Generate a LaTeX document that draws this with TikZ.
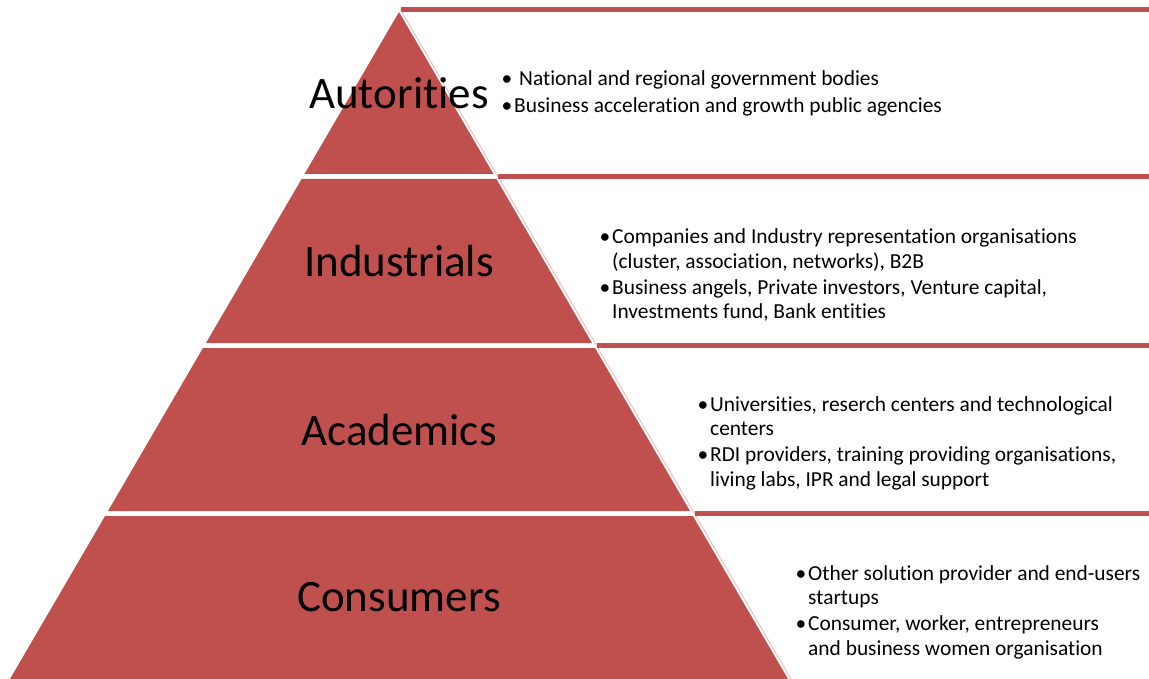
\documentclass[tikz,border=0pt]{standalone}
\usepackage{fontspec}
\setmainfont{Carlito}[Ligatures={NoCommon,NoContextual}]
\definecolor{pyrred}{HTML}{C0504D}
\definecolor{pyrpink}{HTML}{E6B9B8}
\newcommand{\bul}{\llap{•\hspace{2pt}}}

\begin{document}
\begin{tikzpicture}[x=1pt, y=-1pt,
    layer/.style={fill=pyrred},
    band/.style={draw=pyrred, line width=5pt},
    edge/.style={draw=pyrpink, line width=0.8pt},
    level/.style={inner sep=0pt, font=\fontsize{45}{54}\selectfont},
    items/.style={inner sep=0pt, anchor=west, align=left, font=\fontsize{21.4}{24.5}\selectfont}]
\useasboundingbox (0,0) rectangle (1149,679);
\clip (0,0) rectangle (1149,679);

            % Pyramid
            \path[layer] (399,12) -- (304.5,174) -- (493.5,174) -- cycle;
            \path[layer] (301.6,179) -- (496.4,179) -- (592,343) -- (206,343) -- cycle;
            \path[layer] (203,348) -- (595,348) -- (690,511) -- (108,511) -- cycle;
            \path[layer] (105.1,516) -- (692.9,516) -- (788,679) -- (10,679) -- cycle;

            % Boxes
            \path[edge] (400.5,9.5) -- (497.9,176.5) -- (596.5,345.5) -- (694.5,513.5) -- (791,679);
            \path[band] (400.5,9.5) -- (1160,9.5);
            \path[band] (497.9,176.5) -- (1160,176.5);
            \path[band] (596.5,345.5) -- (1160,345.5);
            \path[band] (694.5,513.5) -- (1160,513.5);

            % Levels
            \node[level] (aut) at (399,93) {Autorities};
            \node[level] (ind) at (399,261) {Industrials};
            \node[level] (aca) at (399,430) {Academics};
            \node[level] (con) at (399,597) {Consumers};

            % Members
            \node[items] (aut-m) at (514,93.5) {\bul\hspace*{5pt}National and regional government bodies\\[2pt]
                \bul Business acceleration and growth public agencies};
            \node[items] (ind-m) at (612,275) {\bul Companies and Industry representation organisations\\
                (cluster, association, networks), B2B\\[1.5pt]
                \bul Business angels, Private investors, Venture capital,\\
                Investments fund, Bank entities};
            \node[items] (aca-m) at (710,443) {\bul Universities, reserch centers and technological\\
                centers\\[1.5pt]
                \bul RDI providers, training providing organisations,\\
                living labs, IPR and legal support};
            \node[items] (con-m) at (808,612) {\bul Other solution provider and end-users\\
                startups\\[1.5pt]
                \bul Consumer, worker, entrepreneurs\\
                and business women organisation};

\end{tikzpicture}
\end{document}
